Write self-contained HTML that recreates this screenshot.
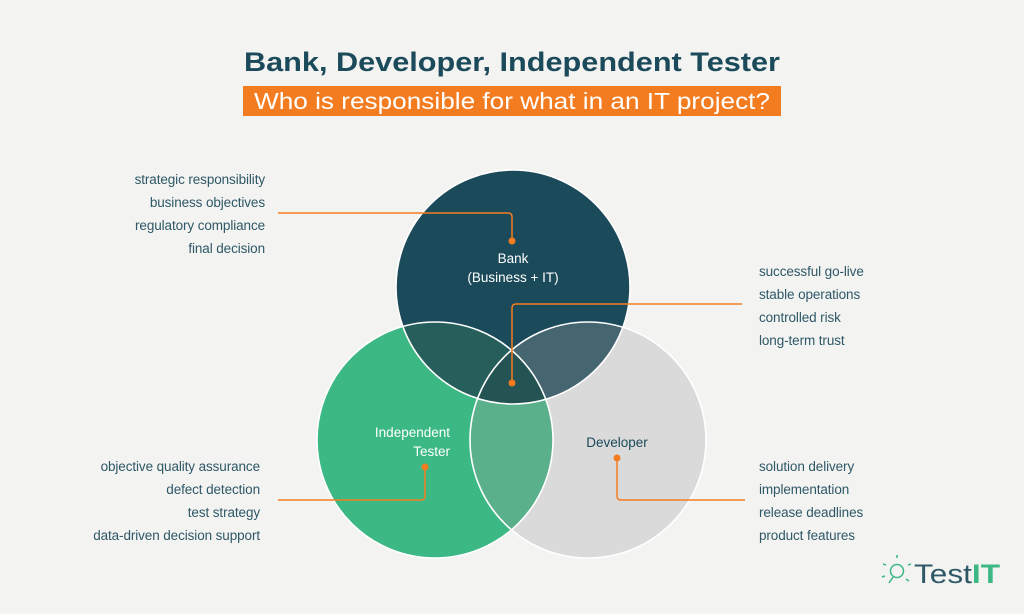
<!DOCTYPE html>
<html><head><meta charset="utf-8"><style>
html,body{margin:0;padding:0;background:#f3f3f2;}
svg{display:block;}
text{font-family:"Liberation Sans",sans-serif;}
</style></head><body>
<svg width="1024" height="614" viewBox="0 0 1024 614" xmlns="http://www.w3.org/2000/svg">
<rect width="1024" height="614" fill="#f3f3f2"/>
<defs>
<clipPath id="cB"><circle cx="513" cy="287" r="117"/></clipPath>
<clipPath id="cT"><circle cx="435" cy="440" r="118"/></clipPath>
<clipPath id="cD"><circle cx="588" cy="440" r="118"/></clipPath>
</defs>
<text x="512" y="71" text-anchor="middle" font-size="27" font-weight="bold" fill="#1b4a5a" textLength="536" lengthAdjust="spacingAndGlyphs">Bank, Developer, Independent Tester</text>
<rect x="243" y="86" width="538" height="30" fill="#f47c20"/>
<text x="512" y="109" text-anchor="middle" font-size="23" fill="#ffffff" textLength="516" lengthAdjust="spacingAndGlyphs">Who is responsible for what in an IT project?</text>

<circle cx="513" cy="287" r="117" fill="#1b4a5a"/>
<circle cx="435" cy="440" r="118" fill="#3bb883"/>
<circle cx="588" cy="440" r="118" fill="#dadada"/>
<g clip-path="url(#cB)"><circle cx="435" cy="440" r="118" fill="#265e5c"/><circle cx="588" cy="440" r="118" fill="#456670"/></g>
<g clip-path="url(#cT)"><circle cx="588" cy="440" r="118" fill="#5bb08c"/></g>
<g clip-path="url(#cB)"><g clip-path="url(#cT)"><circle cx="588" cy="440" r="118" fill="#235352"/></g></g>
<g fill="none" stroke="#ffffff" stroke-width="1.6">
<circle cx="513" cy="287" r="117"/><circle cx="435" cy="440" r="118"/><circle cx="588" cy="440" r="118"/>
</g>

<g fill="none" stroke="#f47c20" stroke-width="1.5">
<path d="M278 213 H508 Q512 213 512 217 V241"/>
<path d="M512 383 V308 Q512 304 516 304 H742"/>
<path d="M425 467 V496 Q425 500 421 500 H278"/>
<path d="M617 458 V496 Q617 500 621 500 H745"/>
</g>
<g fill="#f47c20">
<circle cx="512" cy="241" r="3.5"/><circle cx="512" cy="383" r="3.5"/>
<circle cx="425" cy="467" r="3.5"/><circle cx="617" cy="458" r="3.5"/>
</g>

<g font-size="13.5" fill="#ffffff">
<text x="513" y="263" text-anchor="middle">Bank</text>
<text x="513" y="282" text-anchor="middle">(Business + IT)</text>
<text x="450" y="437" text-anchor="end">Independent</text>
<text x="450" y="456" text-anchor="end">Tester</text>
</g>
<text x="617" y="447" text-anchor="middle" font-size="13.5" fill="#1b4a5a">Developer</text>

<g font-size="13.5" fill="#2e5866" text-anchor="end" letter-spacing="-0.1">
<text x="265" y="184">strategic responsibility</text>
<text x="265" y="207">business objectives</text>
<text x="265" y="230">regulatory compliance</text>
<text x="265" y="253">final decision</text>
<text x="260" y="471">objective quality assurance</text>
<text x="260" y="494">defect detection</text>
<text x="260" y="517">test strategy</text>
<text x="260" y="540">data-driven decision support</text>
</g>
<g font-size="13.5" fill="#2e5866" letter-spacing="-0.1">
<text x="759" y="276">successful go-live</text>
<text x="759" y="299">stable operations</text>
<text x="759" y="322">controlled risk</text>
<text x="759" y="345">long-term trust</text>
<text x="759" y="471">solution delivery</text>
<text x="759" y="494">implementation</text>
<text x="759" y="517">release deadlines</text>
<text x="759" y="540">product features</text>
</g>

<g stroke="#3bb883" stroke-width="1.5" fill="none">
<circle cx="897" cy="571" r="6.5"/>
<path d="M893 577 L889 583"/>
<path d="M886 565 l-3 -1 M897 558 v-3 M908 565 l3 -1 M885 576 l-3 1 M906 579 l3 2"/>
</g>
<text x="914" y="583" font-size="27" fill="#2e5866" textLength="86" lengthAdjust="spacingAndGlyphs">Test<tspan fill="#3bb883" font-weight="bold">IT</tspan></text>
</svg>
</body></html>
